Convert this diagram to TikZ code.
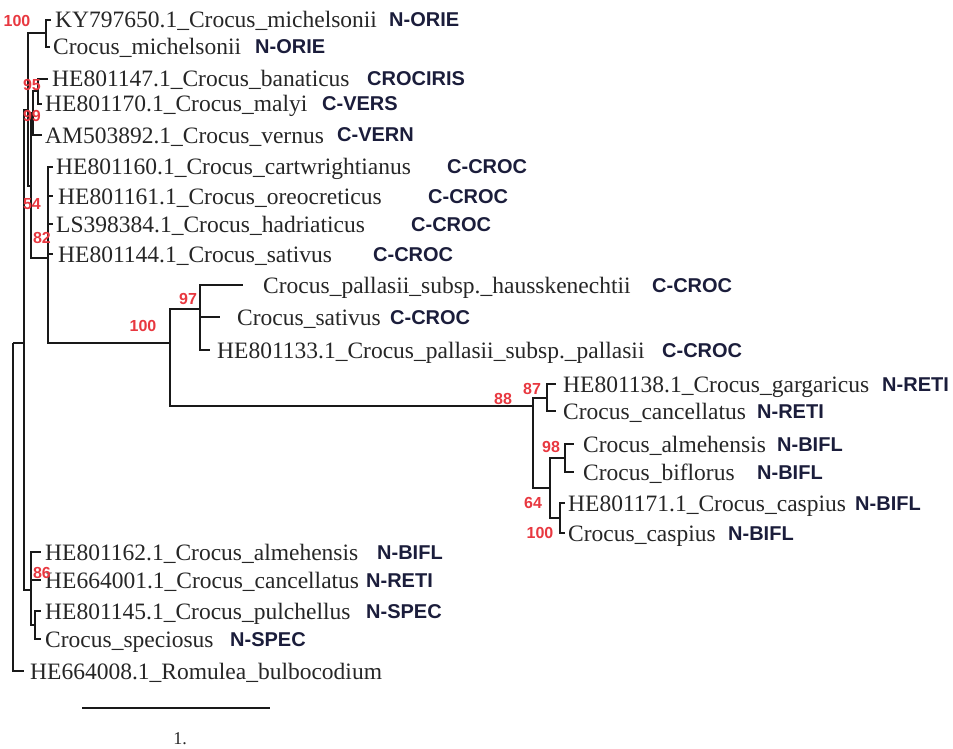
\documentclass[tikz,border=0pt]{standalone}
\usepackage{fontspec}
\setmainfont{Liberation Serif}
\newfontfamily\codefont{Liberation Sans}
\definecolor{leafc}{RGB}{38,38,38}
\definecolor{codec}{RGB}{27,29,59}
\definecolor{bsred}{RGB}{232,56,64}
\begin{document}
\begin{tikzpicture}[x=1pt,y=-1pt,
  br/.style={line width=2.4pt, draw=black!90},
  leaf/.style={anchor=base west, inner sep=0pt, text=leafc, font=\fontsize{23.5}{28}\selectfont},
  code/.style={anchor=base west, inner sep=0pt, text=codec, font=\codefont\bfseries\fontsize{20}{24}\selectfont},
  bs/.style={inner sep=0pt, text=bsred, font=\codefont\bfseries\fontsize{16}{19}\selectfont}]
\useasboundingbox (0,0) rectangle (953,749);

% internal nodes
\coordinate (root) at (13,343);
\coordinate (I) at (24,343);
\coordinate (pA) at (28,110);
\coordinate (pOrie) at (46,33);
\coordinate (p54) at (31,186);
\coordinate (p99) at (33,113);
\coordinate (p95) at (38,91);
\coordinate (p82) at (48,258);
\coordinate (p100) at (170,343);
\coordinate (p97) at (200,309);
\coordinate (p88) at (533,406);
\coordinate (p87) at (547,398);
\coordinate (p64) at (550,488);
\coordinate (p98) at (565,458);
\coordinate (pC) at (560,518);
\coordinate (p86) at (31,590);
\coordinate (pS) at (35,625);

% tip ends
\coordinate (t1) at (51,20);
\coordinate (t2) at (50,47);
\coordinate (t3) at (48,79);
\coordinate (t4) at (42,104);
\coordinate (t5) at (42,135);
\coordinate (t6) at (53,167);
\coordinate (t7) at (53,196);
\coordinate (t8) at (53,224);
\coordinate (t9) at (53,254);
\coordinate (t10) at (243,285);
\coordinate (t11) at (220,317);
\coordinate (t12) at (210,350);
\coordinate (t13) at (556,384);
\coordinate (t14) at (556,411);
\coordinate (t15) at (574,444);
\coordinate (t16) at (574,472);
\coordinate (t17) at (565,503);
\coordinate (t18) at (565,533);
\coordinate (t19) at (41,552);
\coordinate (t20) at (41,580);
\coordinate (t21) at (41,611);
\coordinate (t22) at (41,639);
\coordinate (t23) at (24,671);

% branches
\foreach \a/\b in {root/I, root/t23, I/pA, I/p86, pA/pOrie, pA/p54,
  pOrie/t1, pOrie/t2, p54/p99, p54/p82, p99/p95, p99/t5, p95/t3, p95/t4,
  p82/t6, p82/t7, p82/t8, p82/t9, p82/p100, p100/p97, p100/p88,
  p97/t10, p97/t11, p97/t12, p88/p87, p88/p64, p87/t13, p87/t14,
  p64/p98, p64/pC, p98/t15, p98/t16, pC/t17, pC/t18,
  p86/t19, p86/t20, p86/pS, pS/t21, pS/t22}
  \draw[br] (\a) |- (\b);

% leaf labels
\node[leaf] (n1) at (55,28) {KY797650.1\_Crocus\_michelsonii};
\node[leaf] (n2) at (53,55) {Crocus\_michelsonii};
\node[leaf] (n3) at (52,87) {HE801147.1\_Crocus\_banaticus};
\node[leaf] (n4) at (45,112) {HE801170.1\_Crocus\_malyi};
\node[leaf] (n5) at (45,143) {AM503892.1\_Crocus\_vernus};
\node[leaf] (n6) at (56,175) {HE801160.1\_Crocus\_cartwrightianus};
\node[leaf] (n7) at (58,204) {HE801161.1\_Crocus\_oreocreticus};
\node[leaf] (n8) at (56,232) {LS398384.1\_Crocus\_hadriaticus};
\node[leaf] (n9) at (58,262) {HE801144.1\_Crocus\_sativus};
\node[leaf] (n10) at (263,293) {Crocus\_pallasii\_subsp.\_hausskenechtii};
\node[leaf] (n11) at (237,325) {Crocus\_sativus};
\node[leaf] (n12) at (217,358) {HE801133.1\_Crocus\_pallasii\_subsp.\_pallasii};
\node[leaf] (n13) at (563,392) {HE801138.1\_Crocus\_gargaricus};
\node[leaf] (n14) at (563,419) {Crocus\_cancellatus};
\node[leaf] (n15) at (583,452) {Crocus\_almehensis};
\node[leaf] (n16) at (583,480) {Crocus\_biflorus};
\node[leaf] (n17) at (568,511) {HE801171.1\_Crocus\_caspius};
\node[leaf] (n18) at (568,541) {Crocus\_caspius};
\node[leaf] (n19) at (45,560) {HE801162.1\_Crocus\_almehensis};
\node[leaf] (n20) at (45,588) {HE664001.1\_Crocus\_cancellatus};
\node[leaf] (n21) at (45,619) {HE801145.1\_Crocus\_pulchellus};
\node[leaf] (n22) at (45,647) {Crocus\_speciosus};
\node[leaf] (n23) at (30,679) {HE664008.1\_Romulea\_bulbocodium};

% clade codes
\node[code] (c1) at (389,27) {N-ORIE};
\node[code] (c2) at (255,54) {N-ORIE};
\node[code] (c3) at (367,86) {CROCIRIS};
\node[code] (c4) at (322,111) {C-VERS};
\node[code] (c5) at (337,142) {C-VERN};
\node[code] (c6) at (447,174) {C-CROC};
\node[code] (c7) at (428,203) {C-CROC};
\node[code] (c8) at (411,231) {C-CROC};
\node[code] (c9) at (373,261) {C-CROC};
\node[code] (c10) at (652,292) {C-CROC};
\node[code] (c11) at (390,324) {C-CROC};
\node[code] (c12) at (662,357) {C-CROC};
\node[code] (c13) at (882,391) {N-RETI};
\node[code] (c14) at (757,418) {N-RETI};
\node[code] (c15) at (777,451) {N-BIFL};
\node[code] (c16) at (757,479) {N-BIFL};
\node[code] (c17) at (855,510) {N-BIFL};
\node[code] (c18) at (728,540) {N-BIFL};
\node[code] (c19) at (377,559) {N-BIFL};
\node[code] (c20) at (366,587) {N-RETI};
\node[code] (c21) at (366,618) {N-SPEC};
\node[code] (c22) at (230,646) {N-SPEC};

% support values
\node[bs] (s1) at (17,21) {100};
\node[bs] (s2) at (32,85) {95};
\node[bs] (s3) at (32,116) {99};
\node[bs] (s4) at (32,204) {54};
\node[bs] (s5) at (42,238) {82};
\node[bs] (s6) at (143,326) {100};
\node[bs] (s7) at (188,299) {97};
\node[bs] (s8) at (503,399) {88};
\node[bs] (s9) at (532,389) {87};
\node[bs] (s10) at (551,447) {98};
\node[bs] (s11) at (533,503) {64};
\node[bs] (s12) at (540,533) {100};
\node[bs] (s13) at (42,573) {86};

% scale bar
\coordinate (sb1) at (82,708);
\coordinate (sb2) at (270,708);
\draw[br] (sb1) -- (sb2);
\node[anchor=base, inner sep=0pt, text=leafc, font=\fontsize{18}{20}\selectfont] (sbl) at (180,744) {1.};
\end{tikzpicture}
\end{document}
